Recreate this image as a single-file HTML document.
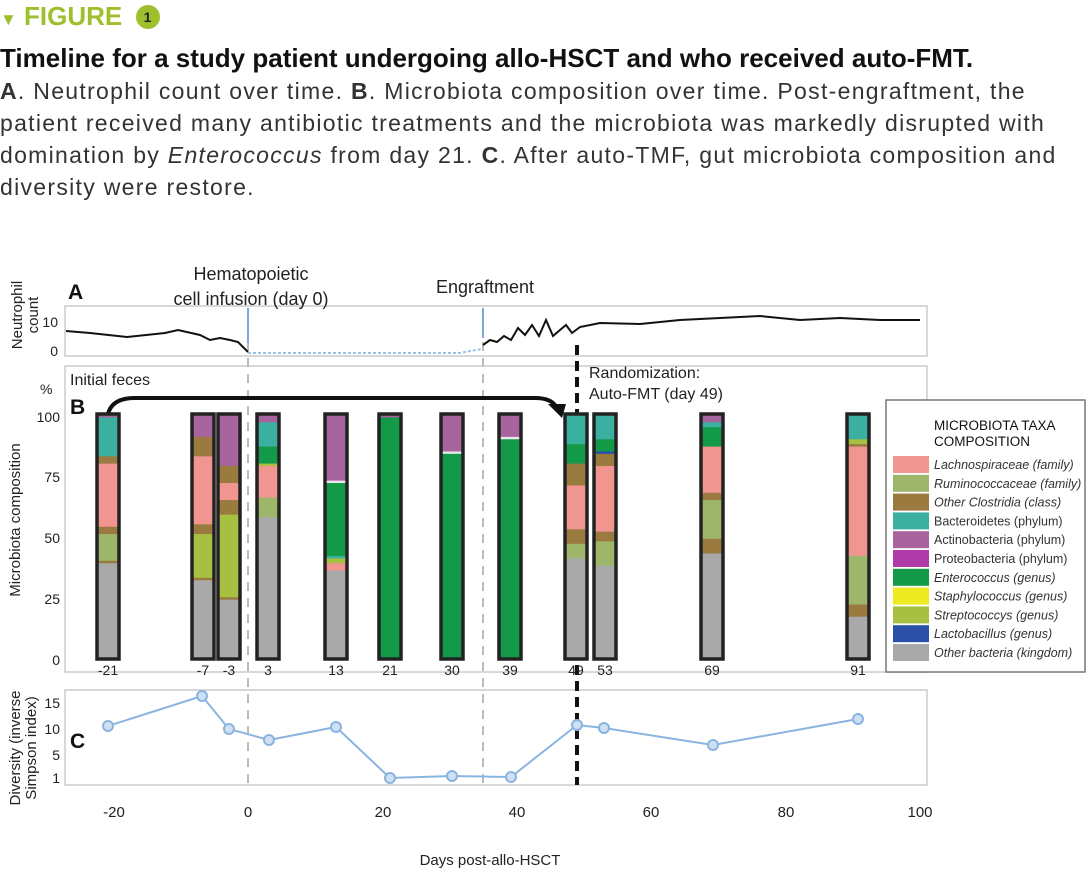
<!DOCTYPE html>
<html><head><meta charset="utf-8"><style>
body{margin:0;background:#fff;width:1090px;height:879px;overflow:hidden;font-family:"Liberation Sans",sans-serif;}
.hd{position:absolute;left:0;top:1px;color:#9fbf2c;font-weight:bold;font-size:26px;}
.tx{position:absolute;left:0;top:42px;width:1062px;font-size:23px;letter-spacing:1.3px;line-height:32px;color:#333;}
</style></head><body>
<div class="hd"><span style="font-size:17px">▼</span> FIGURE <span style="display:inline-block;width:24px;height:24px;border-radius:12px;background:#9fbf2c;color:#222;font-size:14px;text-align:center;line-height:24px;vertical-align:3px;margin-left:6px">1</span></div>
<div class="tx"><b style="color:#111;font-size:26px;letter-spacing:0;white-space:nowrap">Timeline for a study patient undergoing allo-HSCT and who received auto-FMT.</b><br><b>A</b>. Neutrophil count over time. <b>B</b>. Microbiota composition over time. Post-engraftment, the patient received many antibiotic treatments and the microbiota was markedly disrupted with domination by <i>Enterococcus</i> from day 21. <b>C</b>. After auto-TMF, gut microbiota composition and diversity were restore.</div>
<svg width="1090" height="879" style="position:absolute;left:0;top:0" font-family="Liberation Sans, sans-serif">
<g stroke="#ccc" fill="none" stroke-width="1.5">
<rect x="65" y="306" width="862" height="50"/>
<rect x="65" y="366" width="862" height="306"/>
<rect x="65" y="690" width="862" height="95"/>
</g>
<g font-size="14" fill="#222" text-anchor="end">
<text x="58" y="327">10</text><text x="58" y="356">0</text>
<text x="60" y="422">100</text><text x="60" y="482">75</text><text x="60" y="543">50</text><text x="60" y="604">25</text><text x="60" y="665">0</text>
<text x="60" y="708">15</text><text x="60" y="734">10</text><text x="60" y="760">5</text><text x="60" y="783">1</text>
</g>
<g font-size="15" fill="#222" text-anchor="middle">
<text transform="translate(22,315) rotate(-90)">Neutrophil</text>
<text transform="translate(38,315) rotate(-90)">count</text>
<text transform="translate(20,520) rotate(-90)">Microbiota composition</text>
<text transform="translate(20,748) rotate(-90)">Diversity (inverse</text>
<text transform="translate(36,748) rotate(-90)">Simpson index)</text>
<text x="114" y="817">-20</text><text x="248" y="817">0</text><text x="383" y="817">20</text><text x="517" y="817">40</text><text x="651" y="817">60</text><text x="786" y="817">80</text><text x="920" y="817">100</text>
<text x="490" y="865">Days post-allo-HSCT</text>
<text x="251" y="280" font-size="18">Hematopoietic</text>
<text x="251" y="305" font-size="18">cell infusion (day 0)</text>
<text x="485" y="293" font-size="18">Engraftment</text>
</g>
<text x="68" y="299" font-size="21" font-weight="bold" fill="#111">A</text>
<text x="70" y="414" font-size="21" font-weight="bold" fill="#111">B</text>
<text x="70" y="748" font-size="21" font-weight="bold" fill="#111">C</text>
<text x="70" y="385" font-size="16" fill="#222">Initial feces</text>
<text x="40" y="394" font-size="14" fill="#222">%</text>
<text x="589" y="378" font-size="16" fill="#222">Randomization:</text>
<text x="589" y="399" font-size="16" fill="#222">Auto-FMT (day 49)</text>
<g stroke="#bbb" stroke-width="2" stroke-dasharray="9,7"><line x1="248" y1="310" x2="248" y2="785"/><line x1="483" y1="310" x2="483" y2="785"/></g>
<line x1="577" y1="345" x2="577" y2="785" stroke="#111" stroke-width="4" stroke-dasharray="10,6"/>
<polyline fill="none" stroke="#111" stroke-width="2" points="66,331 90,333 127,337 165,333 178,330 200,335 210,340 220,338 230,340 238,342 248,352"/>
<polyline fill="none" stroke="#9bc0e8" stroke-width="2" stroke-dasharray="3,2" points="248,353 460,353 470,351 483,349"/>
<polyline fill="none" stroke="#111" stroke-width="2" points="483,345 490,340 497,342 504,336 511,340 518,328 525,335 532,325 539,336 546,320 553,336 560,330 566,325 572,333 580,327 600,323 640,324 680,320 720,318 760,316 800,320 840,318 880,320 920,320"/>
<g stroke="#7fa8d8" stroke-width="2"><line x1="248" y1="308" x2="248" y2="343"/><line x1="483" y1="308" x2="483" y2="338"/></g>
<path d="M108,414 Q112,398 135,398 L535,398 Q552,398 557,408" fill="none" stroke="#111" stroke-width="4"/>
<polygon points="548,404 566,404 562,418" fill="#111"/>
<g id="bars"></g>
<polyline fill="none" stroke="#8ab4e0" stroke-width="2" points="108,726 202,696 229,729 269,740 336,727 390,778 452,776 511,777 577,725 604,728 713,745 858,719"/>
<g fill="#cfe0f3" stroke="#8ab4e0" stroke-width="2">
<circle cx="108" cy="726" r="5"/><circle cx="202" cy="696" r="5"/><circle cx="229" cy="729" r="5"/><circle cx="269" cy="740" r="5"/><circle cx="336" cy="727" r="5"/><circle cx="390" cy="778" r="5"/><circle cx="452" cy="776" r="5"/><circle cx="511" cy="777" r="5"/><circle cx="577" cy="725" r="5"/><circle cx="604" cy="728" r="5"/><circle cx="713" cy="745" r="5"/><circle cx="858" cy="719" r="5"/>
</g>
<rect x="886" y="400" width="199" height="272" fill="#fff" stroke="#777" stroke-width="1.5"/>
<text x="934" y="430" font-size="13.5" fill="#111">MICROBIOTA TAXA</text>
<text x="934" y="446" font-size="13.5" fill="#111">COMPOSITION</text>
<g id="leg" font-size="12.5" fill="#333"></g>
</svg>
<script>
(function(){
var C={L:"#f0958f",R:"#9db66a",O:"#9a7a3e",B:"#3cb0a0",A:"#a8649e",P:"#b03aa8",E:"#139a48",S:"#eeea22",T:"#a8c042",Lb:"#2a50a8",X:"#a9a9a9",W:"#e8e8e8"};
var bars=[[108,[["A",1],["B",16],["O",3],["L",26],["O",3],["R",11],["O",1],["X",39]]],
[203,[["A",9],["O",8],["L",28],["O",4],["T",18],["O",1],["X",32]]],
[229,[["A",21],["O",7],["L",7],["O",6],["T",34],["O",1],["X",24]]],
[268,[["A",3],["B",10],["E",7],["T",1],["L",13],["R",8],["X",58]]],
[336,[["A",27],["W",1],["E",30],["B",1],["T",2],["L",3],["X",36]]],
[390,[["A",1],["E",99]]],[452,[["A",15],["W",1],["E",84]]],[510,[["A",9],["W",1],["E",90]]],
[576,[["B",12],["E",8],["O",9],["L",18],["O",6],["R",6],["X",41]]],
[605,[["B",10],["E",5],["Lb",1],["O",5],["L",27],["O",4],["R",10],["X",38]]],
[712,[["A",3],["B",2],["E",8],["L",19],["O",3],["R",16],["O",6],["X",43]]],
[858,[["B",10],["T",2],["O",1],["L",45],["R",20],["O",5],["X",17]]]];
var labs=["-21","-7","-3","3","13","21","30","39","49","53","69","91"];
var s="",T0=415,H=243;
bars.forEach(function(b,i){var y=T0;b[1].forEach(function(q){var h=q[1]/100*H;s+='<rect x="'+(b[0]-10)+'" y="'+y+'" width="20" height="'+(h+0.5)+'" fill="'+C[q[0]]+'"/>';y+=h;});
s+='<rect x="'+(b[0]-11)+'" y="'+(T0-1)+'" width="22" height="'+(H+2)+'" fill="none" stroke="#222" stroke-width="3.5"/>';
s+='<text x="'+b[0]+'" y="675" font-size="14" text-anchor="middle" fill="#222">'+labs[i]+'</text>';});
document.getElementById("bars").innerHTML=s;
var lg=[["L","Lachnospiraceae (family)",1],["R","Ruminococcaceae (family)",1],["O","Other Clostridia (class)",1],["B","Bacteroidetes (phylum)",0],["A","Actinobacteria (phylum)",0],["P","Proteobacteria (phylum)",0],["E","Enterococcus (genus)",1],["S","Staphylococcus (genus)",1],["T","Streptococcys (genus)",1],["Lb","Lactobacillus (genus)",1],["X","Other bacteria (kingdom)",1]];
var t="";lg.forEach(function(l,i){var y=456+i*18.8;t+='<rect x="893" y="'+y+'" width="36" height="17" fill="'+C[l[0]]+'"/><text x="934" y="'+(y+13)+'"'+(l[2]?' font-style="italic"':'')+'>'+l[1]+'</text>';});
document.getElementById("leg").innerHTML=t;
})();
</script>
</body></html>
